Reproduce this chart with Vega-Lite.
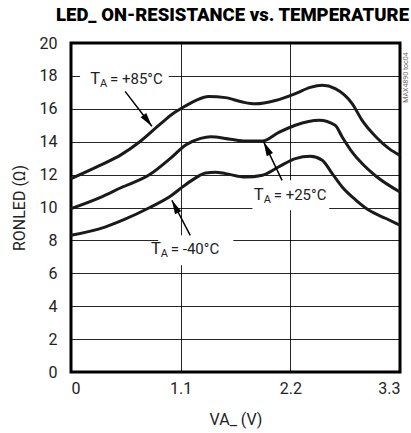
{
  "$schema": "https://vega.github.io/schema/vega-lite/v6.json",
  "width": 329,
  "height": 329,
  "autosize": {"type": "none"},
  "padding": {"left": 71, "top": 43, "right": 11, "bottom": 61},
  "title": {
    "text": "LED_ ON-RESISTANCE vs. TEMPERATURE",
    "anchor": "middle",
    "frame": "group",
    "baseline": "alphabetic",
    "offset": -4,
    "dx": -3,
    "font": "Roboto",
    "fontSize": 18.5,
    "fontWeight": 900,
    "color": "#000"
  },
  "config": {
    "view": {"stroke": "#000", "strokeWidth": 3},
    "font": "Roboto",
    "axis": {
      "domain": false,
      "ticks": false,
      "grid": true,
      "gridColor": "#000",
      "gridWidth": 1,
      "gridOpacity": 0.85,
      "labelOverlap": false,
      "labelFont": "Roboto",
      "labelFontSize": 16,
      "labelColor": "#222",
      "titleFont": "Roboto",
      "titleFontSize": 16,
      "titleFontWeight": "normal",
      "titleColor": "#222"
    }
  },
  "datasets": {
    "curves": [
      {"series": "+85", "v": 0, "r": 11.75},
      {"series": "+85", "v": 0.29, "r": 12.56},
      {"series": "+85", "v": 0.5, "r": 13.2},
      {"series": "+85", "v": 0.69, "r": 14.0},
      {"series": "+85", "v": 0.9, "r": 15.1},
      {"series": "+85", "v": 1.045, "r": 15.8},
      {"series": "+85", "v": 1.1, "r": 16.0},
      {"series": "+85", "v": 1.25, "r": 16.5},
      {"series": "+85", "v": 1.38, "r": 16.75},
      {"series": "+85", "v": 1.55, "r": 16.68},
      {"series": "+85", "v": 1.72, "r": 16.41},
      {"series": "+85", "v": 1.85, "r": 16.3},
      {"series": "+85", "v": 2.05, "r": 16.5},
      {"series": "+85", "v": 2.25, "r": 16.92},
      {"series": "+85", "v": 2.4, "r": 17.3},
      {"series": "+85", "v": 2.52, "r": 17.43},
      {"series": "+85", "v": 2.65, "r": 17.23},
      {"series": "+85", "v": 2.82, "r": 16.32},
      {"series": "+85", "v": 2.92, "r": 15.3},
      {"series": "+85", "v": 3.06, "r": 14.29},
      {"series": "+85", "v": 3.19, "r": 13.58},
      {"series": "+85", "v": 3.3, "r": 13.17},
      {"series": "+25", "v": 0, "r": 9.93},
      {"series": "+25", "v": 0.29, "r": 10.6},
      {"series": "+25", "v": 0.5, "r": 11.2},
      {"series": "+25", "v": 0.79, "r": 12.0},
      {"series": "+25", "v": 1.0, "r": 13.0},
      {"series": "+25", "v": 1.15, "r": 13.8},
      {"series": "+25", "v": 1.3, "r": 14.2},
      {"series": "+25", "v": 1.4, "r": 14.3},
      {"series": "+25", "v": 1.6, "r": 14.15},
      {"series": "+25", "v": 1.75, "r": 14.04},
      {"series": "+25", "v": 1.92, "r": 14.04},
      {"series": "+25", "v": 2.08, "r": 14.55},
      {"series": "+25", "v": 2.25, "r": 15.0},
      {"series": "+25", "v": 2.49, "r": 15.3},
      {"series": "+25", "v": 2.65, "r": 15.0},
      {"series": "+25", "v": 2.72, "r": 14.29},
      {"series": "+25", "v": 2.82, "r": 13.37},
      {"series": "+25", "v": 2.92, "r": 12.67},
      {"series": "+25", "v": 3.06, "r": 11.9},
      {"series": "+25", "v": 3.3, "r": 10.94},
      {"series": "-40", "v": 0, "r": 8.31},
      {"series": "-40", "v": 0.34, "r": 8.81},
      {"series": "-40", "v": 0.53, "r": 9.26},
      {"series": "-40", "v": 0.79, "r": 10.0},
      {"series": "-40", "v": 1.0, "r": 10.7},
      {"series": "-40", "v": 1.13, "r": 11.3},
      {"series": "-40", "v": 1.25, "r": 11.8},
      {"series": "-40", "v": 1.35, "r": 12.1},
      {"series": "-40", "v": 1.45, "r": 12.15},
      {"series": "-40", "v": 1.55, "r": 12.06},
      {"series": "-40", "v": 1.75, "r": 11.85},
      {"series": "-40", "v": 1.92, "r": 11.96},
      {"series": "-40", "v": 2.08, "r": 12.46},
      {"series": "-40", "v": 2.25, "r": 12.97},
      {"series": "-40", "v": 2.4, "r": 13.11},
      {"series": "-40", "v": 2.52, "r": 12.87},
      {"series": "-40", "v": 2.62, "r": 12.06},
      {"series": "-40", "v": 2.72, "r": 11.25},
      {"series": "-40", "v": 2.86, "r": 10.44},
      {"series": "-40", "v": 2.99, "r": 9.83},
      {"series": "-40", "v": 3.16, "r": 9.33},
      {"series": "-40", "v": 3.3, "r": 8.92}
    ],
    "labels": [
      {"series": "+85", "rest": "= +85°C", "v": 0.291, "r": 17.84, "bv1": 0.09, "bv2": 0.98, "br1": 17.3, "br2": 18.7, "av1": 0.543, "ar1": 17.06, "av2": 0.811, "ar2": 14.94},
      {"series": "+25", "rest": "= +25°C", "v": 1.933, "r": 10.74, "bv1": 1.82, "bv2": 2.59, "br1": 9.83, "br2": 11.65, "av1": 2.117, "ar1": 11.65, "av2": 1.933, "ar2": 13.98},
      {"series": "-40", "rest": "= -40°C", "v": 0.901, "r": 7.5, "bv1": 0.874, "bv2": 1.628, "br1": 6.49, "br2": 8.31, "av1": 1.196, "ar1": 8.31, "av2": 1.012, "ar2": 10.44}
    ],
    "code": [{"text": "MAX4890 toc04", "v": 3.365, "r": 17.9}]
  },
  "layer": [
    {
      "data": {"name": "labels"},
      "mark": {"type": "rect", "fill": "white"},
      "encoding": {
        "x": {"field": "bv1", "type": "quantitative", "scale": {"domain": [0, 3.3], "nice": false, "zero": false}, "axis": {"values": [0, 1.1, 2.2, 3.3], "format": ".1~f", "labelPadding": 8, "title": "VA_ (V)", "titlePadding": 15}},
        "x2": {"field": "bv2"},
        "y": {"field": "br1", "type": "quantitative", "scale": {"domain": [0, 20], "nice": false}, "axis": {"tickCount": 10, "labelOverlap": false, "labelPadding": 14, "title": "RONLED (Ω)", "titlePadding": 12}},
        "y2": {"field": "br2"}
      }
    },
    {
      "data": {"name": "curves"},
      "mark": {"type": "line", "interpolate": "monotone", "color": "#1a1a1a", "strokeWidth": 3},
      "encoding": {
        "x": {"field": "v", "type": "quantitative"},
        "y": {"field": "r", "type": "quantitative"},
        "detail": {"field": "series"}
      }
    },
    {
      "data": {"name": "labels"},
      "mark": {"type": "rule", "color": "#000", "strokeWidth": 1.5},
      "encoding": {
        "x": {"field": "av1", "type": "quantitative"},
        "y": {"field": "ar1", "type": "quantitative"},
        "x2": {"field": "av2"},
        "y2": {"field": "ar2"}
      }
    },
    {
      "data": {"name": "labels"},
      "transform": [{"filter": "datum.series === '+85'"}],
      "mark": {"type": "point", "shape": "M0,0L0.25,1L-0.25,1Z", "filled": true, "color": "#000", "opacity": 1, "size": 784, "angle": 143},
      "encoding": {"x": {"field": "av2", "type": "quantitative"}, "y": {"field": "ar2", "type": "quantitative"}}
    },
    {
      "data": {"name": "labels"},
      "transform": [{"filter": "datum.series === '+25'"}],
      "mark": {"type": "point", "shape": "M0,0L0.25,1L-0.25,1Z", "filled": true, "color": "#000", "opacity": 1, "size": 784, "angle": 334},
      "encoding": {"x": {"field": "av2", "type": "quantitative"}, "y": {"field": "ar2", "type": "quantitative"}}
    },
    {
      "data": {"name": "labels"},
      "transform": [{"filter": "datum.series === '-40'"}],
      "mark": {"type": "point", "shape": "M0,0L0.25,1L-0.25,1Z", "filled": true, "color": "#000", "opacity": 1, "size": 784, "angle": 333.5},
      "encoding": {"x": {"field": "av2", "type": "quantitative"}, "y": {"field": "ar2", "type": "quantitative"}}
    },
    {
      "data": {"name": "labels"},
      "mark": {"type": "text", "text": "T", "align": "right", "baseline": "middle", "fontSize": 16.5, "color": "#222"},
      "encoding": {"x": {"field": "v", "type": "quantitative"}, "y": {"field": "r", "type": "quantitative"}}
    },
    {
      "data": {"name": "labels"},
      "mark": {"type": "text", "text": "A", "align": "left", "baseline": "middle", "fontSize": 11, "dy": 5, "color": "#222"},
      "encoding": {"x": {"field": "v", "type": "quantitative"}, "y": {"field": "r", "type": "quantitative"}}
    },
    {
      "data": {"name": "labels"},
      "mark": {"type": "text", "align": "left", "baseline": "middle", "fontSize": 15, "dx": 10, "color": "#222"},
      "encoding": {"x": {"field": "v", "type": "quantitative"}, "y": {"field": "r", "type": "quantitative"}, "text": {"field": "rest"}}
    },
    {
      "data": {"name": "code"},
      "mark": {"type": "text", "angle": 270, "align": "center", "baseline": "middle", "fontSize": 7, "color": "#666", "clip": false},
      "encoding": {"x": {"field": "v", "type": "quantitative"}, "y": {"field": "r", "type": "quantitative"}, "text": {"field": "text"}}
    }
  ]
}
